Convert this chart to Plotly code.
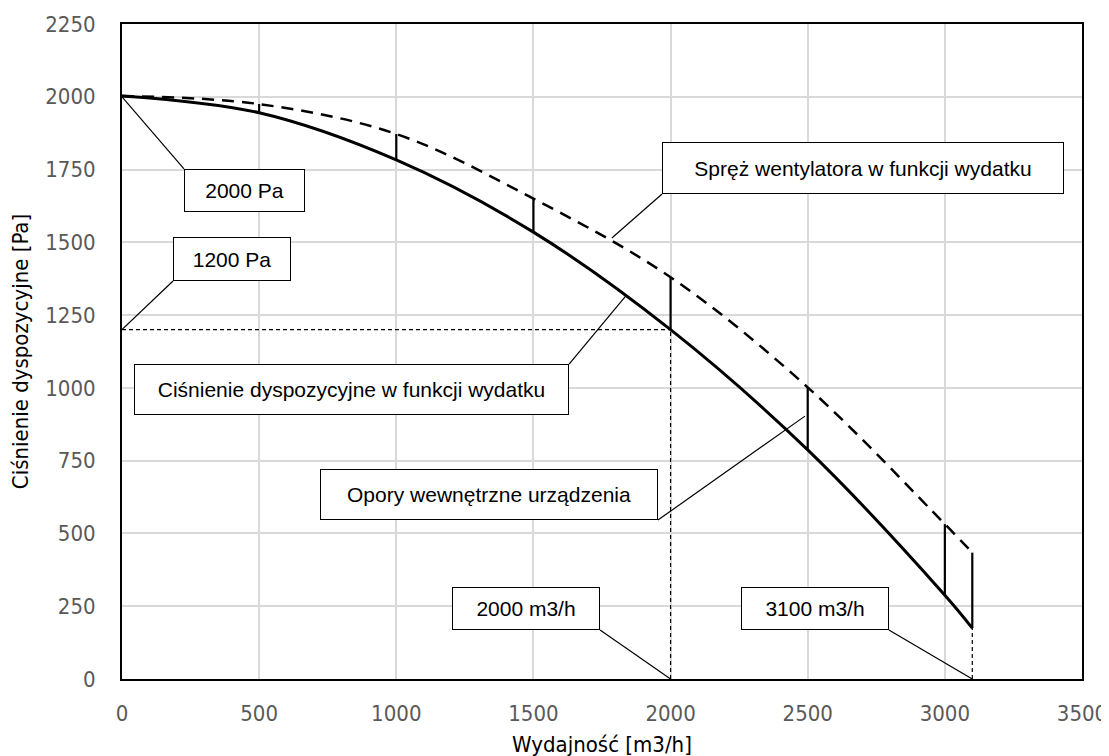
import plotly.graph_objects as go

# Data
flow = [0, 500, 1000, 1500, 2000, 2500, 3000, 3100]
fan_pressure = [2003, 1975, 1872, 1650, 1380, 1002, 532, 434]
avail_pressure = [2003, 1945, 1783, 1535, 1200, 787, 288, 175]

op_flow = [2000, 3100]
op_pressure = [1200, 175]

x_ticks = [0, 500, 1000, 1500, 2000, 2500, 3000, 3500]
y_ticks = [0, 250, 500, 750, 1000, 1250, 1500, 1750, 2000, 2250]

box_texts = ["2000 Pa", "1200 Pa", "Ciśnienie dyspozycyjne w funkcji wydatku",
             "Spręż wentylatora w funkcji wydatku", "Opory wewnętrzne urządzenia",
             "2000 m3/h", "3100 m3/h"]
box_x = [226, 186, 44, 1969, 722, 1203, 2257]
box_y = [1752, 1518, 1082, 1845, 721, 316, 316]
box_w = [121, 118, 435, 402, 338, 148, 148]
box_h = [43, 44, 51, 52, 51, 43, 43]
lead_x0 = [226, 186, 1630, 1969, 1954, 1743, 2796]
lead_y0 = [1752, 1367, 1082, 1666, 546, 168, 168]
lead_x1 = [0, 0, 1837, 1786, 2490, 2000, 3100]
lead_y1 = [2000, 1200, 1316, 1515, 903, 0, 0]

fig = go.Figure()

# reference dashed guide lines
fig.add_trace(go.Scatter(
    x=[0, op_flow[0], None, op_flow[0], op_flow[0], None, op_flow[1], op_flow[1]],
    y=[op_pressure[0], op_pressure[0], None, 0, op_pressure[0], None, 0, op_pressure[1]],
    mode="lines", line=dict(color="black", width=1.2, dash="4px,3px"),
    hoverinfo="skip", showlegend=False))

# leader lines
lx, ly = [], []
for a, b, c, d in zip(lead_x0, lead_y0, lead_x1, lead_y1):
    lx += [a, c, None]
    ly += [b, d, None]
fig.add_trace(go.Scatter(x=lx, y=ly, mode="lines",
                         line=dict(color="black", width=1.2),
                         hoverinfo="skip", showlegend=False))

# fan curve (dashed)
fig.add_trace(go.Scatter(x=flow, y=fan_pressure, mode="lines",
                         line=dict(color="black", width=2.5, dash="12px,8px", shape="spline"),
                         name="Spręż wentylatora", showlegend=False))

# available pressure (solid)
fig.add_trace(go.Scatter(x=flow, y=avail_pressure, mode="lines",
                         line=dict(color="black", width=3, shape="spline"),
                         name="Ciśnienie dyspozycyjne", showlegend=False))

# internal resistance ticks
tx, ty = [], []
for xv, a, f in zip(flow, avail_pressure, fan_pressure):
    if f - a > 0:
        tx += [xv, xv, None]
        ty += [a, f, None]
fig.add_trace(go.Scatter(x=tx, y=ty, mode="lines",
                         line=dict(color="black", width=2.2),
                         hoverinfo="skip", showlegend=False))

for t, xv, yv, w, h in zip(box_texts, box_x, box_y, box_w, box_h):
    fig.add_annotation(x=xv, y=yv, xref="x", yref="y", text=t, showarrow=False,
                       xanchor="left", yanchor="top", width=w - 2, height=h - 2,
                       align="center", valign="middle",
                       bgcolor="white", bordercolor="black", borderwidth=1, borderpad=0,
                       font=dict(family="Liberation Sans, Arial", size=21, color="black"))

tick_font = dict(family="DejaVu Sans Condensed, DejaVu Sans", size=22, color="#595959")
title_font = dict(family="DejaVu Sans Condensed, DejaVu Sans", size=22, color="black")

fig.update_layout(
    width=1109, height=756,
    margin=dict(l=114, r=35, t=16, b=85),
    paper_bgcolor="white", plot_bgcolor="white",
    showlegend=False,
    xaxis=dict(range=[0, 3500], tickvals=x_ticks, ticktext=[str(v) for v in x_ticks],
               showgrid=True, gridcolor="#d9d9d9", gridwidth=2,
               showline=True, linecolor="black", linewidth=2, mirror=True,
               zeroline=False, ticks="", tickfont=tick_font, ticklabelstandoff=14,
               automargin=False,
               title=dict(text="Wydajność [m3/h]", font=title_font, standoff=11)),
    yaxis=dict(range=[0, 2250], tickvals=y_ticks, ticktext=[str(v) for v in y_ticks],
               showgrid=True, gridcolor="#d9d9d9", gridwidth=2,
               showline=True, linecolor="black", linewidth=2, mirror=True,
               zeroline=False, ticks="", tickfont=tick_font, ticklabelstandoff=20,
               automargin=False,
               title=dict(text="Ciśnienie dyspozycyjne [Pa]", font=title_font, standoff=12)),
)

fig.write_html("out.html")
